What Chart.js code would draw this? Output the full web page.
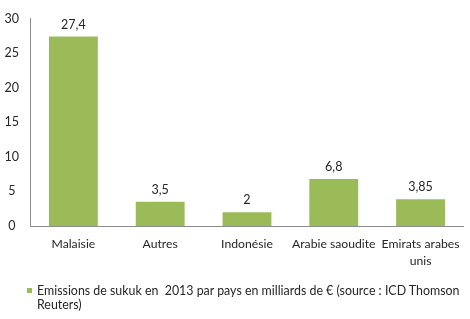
<!DOCTYPE html>
<html>
<head>
<meta charset="utf-8">
<script src="https://cdn.jsdelivr.net/npm/chart.js@4/dist/chart.umd.min.js"></script>
<style>
  html, body { margin: 0; padding: 0; background: #fff; }
  #wrap { position: relative; width: 470px; height: 319px; }
  #legende {
    position: absolute; left: 37px; top: 284px; width: 428px;
    font: 12.4px Lato, sans-serif; line-height: 14px; color: #262626;
  }
  #legende .carre {
    position: absolute; left: -10px; top: 4px; width: 5px; height: 5px; background: #9bbb59;
  }
</style>
</head>
<body>
<div id="wrap">
  <canvas id="chartSukuk" width="470" height="319"></canvas>
  <div id="legende"><span class="carre"></span>Emissions de sukuk en&nbsp; 2013 par pays en milliards de € (source : ICD Thomson Reuters)</div>
</div>
<script>
// Données
const pays = ['Malaisie', 'Autres', 'Indonésie', 'Arabie saoudite', ['Emirats arabes', 'unis']];
const emissions = [27.4, 3.5, 2, 6.8, 3.85];
const graduations = [0, 5, 10, 15, 20, 25, 30];

// Étiquettes de valeur au-dessus des barres (virgule décimale)
const etiquettesValeurs = {
  id: 'etiquettesValeurs',
  afterDatasetsDraw(chart) {
    const ctx = chart.ctx;
    const meta = chart.getDatasetMeta(0);
    ctx.save();
    ctx.font = '12.5px Lato, sans-serif';
    ctx.fillStyle = '#262626';
    ctx.textAlign = 'center';
    ctx.textBaseline = 'middle';
    meta.data.forEach((bar, i) => {
      const txt = String(emissions[i]).replace('.', ',');
      ctx.fillText(txt, bar.x, bar.y - 12);
    });
    ctx.restore();
  }
};

const ctx = document.getElementById('chartSukuk').getContext('2d');
new Chart(ctx, {
  type: 'bar',
  data: {
    labels: pays,
    datasets: [{
      label: 'Emissions de sukuk en 2013 par pays en milliards de € (source : ICD Thomson Reuters)',
      data: emissions,
      backgroundColor: '#9bbb59',
      borderWidth: 0,
      barPercentage: 0.563,
      categoryPercentage: 1
    }]
  },
  options: {
    responsive: false,
    animation: false,
    layout: { padding: { top: 12, right: 5, left: 0, bottom: 0 } },
    plugins: {
      legend: { display: false },
      tooltip: { enabled: false }
    },
    scales: {
      x: {
        grid: { display: false, drawTicks: false },
        border: { color: '#8c8c8c', width: 1 },
        ticks: {
          color: '#262626',
          font: { family: 'Lato, sans-serif', size: 12.2, lineHeight: 1.38 },
          padding: 10,
          maxRotation: 0,
          autoSkip: false
        },
        afterFit(scale) { scale.height = 93; }
      },
      y: {
        min: 0,
        max: 30,
        afterBuildTicks(scale) { scale.ticks = graduations.map(v => ({ value: v })); },
        grid: { display: false, drawTicks: false },
        border: { color: '#8c8c8c', width: 1 },
        ticks: {
          color: '#262626',
          font: { family: 'Lato, sans-serif', size: 12.5 },
          crossAlign: 'center',
          padding: 11
        },
        afterFit(scale) { scale.width = 30; }
      }
    }
  },
  plugins: [etiquettesValeurs]
});
</script>
</body>
</html>
